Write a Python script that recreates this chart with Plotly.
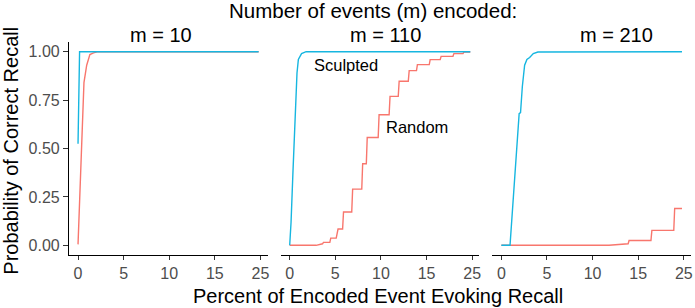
import plotly.graph_objects as go

# ---------------- data ----------------
panel_titles = ["m = 10", "m = 110", "m = 210"]
series_names = ["Random", "Sculpted"]

x_ticks = [0, 5, 10, 15, 20]
x_tick_labels = ["0", "5", "10", "15", "25"]
y_ticks = [0, 0.25, 0.5, 0.75, 1.0]

# m = 10
m10_random_x = [0, 0.45, 0.65, 0.95, 1.3, 1.7, 2.2, 19.8]
m10_random_y = [0.005, 0.64, 0.84, 0.93, 0.985, 0.994, 1.0, 1.0]
m10_sculpted_x = [0, 0.17, 19.8]
m10_sculpted_y = [0.525, 1.0, 1.0]

# m = 110
m110_random_x = [0, 2.9, 3.6, 3.7, 4.4, 4.5, 5.1, 5.3, 5.8, 5.9, 6.8, 6.9, 7.9, 8.0,
                 8.4, 8.5, 9.7, 9.8, 10.9, 11.0, 11.9, 12.0, 13.0, 13.1, 13.9, 14.0,
                 15.3, 15.4, 16.5, 16.6, 17.9, 18.0, 19.0, 19.1, 19.8]
m110_random_y = [0.0, 0.0, 0.008, 0.015, 0.015, 0.037, 0.037, 0.084, 0.084, 0.172, 0.172,
                 0.29, 0.29, 0.421, 0.421, 0.557, 0.557, 0.674, 0.674, 0.769, 0.769,
                 0.847, 0.847, 0.902, 0.902, 0.933, 0.933, 0.959, 0.959, 0.976, 0.976,
                 0.99, 0.99, 0.998, 0.998]
m110_sculpted_x = [0, 0.15, 0.35, 0.55, 0.7, 0.8, 0.95, 1.3, 1.8, 19.8]
m110_sculpted_y = [0.0, 0.12, 0.37, 0.63, 0.80, 0.89, 0.96, 0.99, 1.0, 1.0]

# m = 210
m210_random_x = [0, 11.8, 13.9, 14.0, 16.4, 16.5, 18.9, 19.0, 19.8]
m210_random_y = [0.0, 0.0, 0.008, 0.025, 0.025, 0.077, 0.077, 0.19, 0.19]
m210_sculpted_x = [0, 0.95, 1.95, 2.1, 2.3, 2.55, 2.8, 3.1, 3.5, 4.0, 19.8]
m210_sculpted_y = [0.0, 0.0, 0.68, 0.685, 0.82, 0.93, 0.96, 0.97, 0.99, 0.998, 1.0]

random_x = [m10_random_x, m110_random_x, m210_random_x]
random_y = [m10_random_y, m110_random_y, m210_random_y]
sculpted_x = [m10_sculpted_x, m110_sculpted_x, m210_sculpted_x]
sculpted_y = [m10_sculpted_y, m110_sculpted_y, m210_sculpted_y]

# label positions (data coords in panel 2)
label_sculpted = (6.2, 0.933)
label_random = (14.0, 0.611)

# ---------------- styling ----------------
RED = "#F8766D"
BLUE = "#16B6E0"
FONT = "Liberation Sans, Arial, Helvetica, sans-serif"
W, H = 695, 308
ML, MR, MT, MB = 69, 2, 42, 53
PW = W - ML - MR
PH = H - MT - MB

def px_to_paper_x(px):
    return (px - ML) / PW

def py_to_paper_y(py):
    return (H - MB - py) / PH

panel_w = 0.3194
gap = (1 - 3 * panel_w) / 2
domains = [[i * (panel_w + gap), i * (panel_w + gap) + panel_w] for i in range(3)]
domains[2][1] = 1.0

fig = go.Figure()
for i in range(3):
    xa = "x" if i == 0 else f"x{i+1}"
    ya = "y" if i == 0 else f"y{i+1}"
    fig.add_trace(go.Scatter(x=random_x[i], y=random_y[i], mode="lines",
                             line=dict(color=RED, width=1.4), name=series_names[0],
                             xaxis=xa, yaxis=ya, showlegend=False))
    fig.add_trace(go.Scatter(x=sculpted_x[i], y=sculpted_y[i], mode="lines",
                             line=dict(color=BLUE, width=1.4), name=series_names[1],
                             xaxis=xa, yaxis=ya, showlegend=False))

xrange = [-0.99, 20.79]
yrange = [-0.05, 1.05]
for i in range(3):
    key = "xaxis" if i == 0 else f"xaxis{i+1}"
    fig.layout[key] = dict(
        domain=domains[i], range=xrange, anchor="y" if i == 0 else f"y{i+1}",
        tickmode="array", tickvals=x_ticks, ticktext=x_tick_labels,
        showline=True, linecolor="black", linewidth=1.1,
        ticks="outside", ticklen=4, tickcolor="#333333", tickwidth=1,
        tickfont=dict(family=FONT, size=16, color="#4D4D4D"),
        showgrid=False, zeroline=False, fixedrange=True,
    )
    ykey = "yaxis" if i == 0 else f"yaxis{i+1}"
    ydict = dict(domain=[0, 1], range=yrange, anchor="x" if i == 0 else f"x{i+1}",
                 showgrid=False, zeroline=False, fixedrange=True)
    if i == 0:
        ydict.update(tickmode="array", tickvals=y_ticks, tickformat=".2f",
                     showline=True, linecolor="black", linewidth=1.1,
                     ticks="outside", ticklen=5, tickcolor="#333333", tickwidth=1,
                     tickfont=dict(family=FONT, size=16, color="#4D4D4D"))
    else:
        ydict.update(showticklabels=False, showline=False, ticks="")
    fig.layout[ykey] = ydict

annotations = []
title_px = [161, 387, 618]
for t, px in zip(panel_titles, title_px):
    annotations.append(dict(text=t, xref="paper", yref="paper",
                            x=px_to_paper_x(px), y=py_to_paper_y(35),
                            xanchor="center", yanchor="middle", showarrow=False,
                            font=dict(family=FONT, size=20, color="black")))
annotations.append(dict(text="Number of events (m) encoded:", xref="paper", yref="paper",
                        x=px_to_paper_x(374), y=py_to_paper_y(11),
                        xanchor="center", yanchor="middle", showarrow=False,
                        font=dict(family=FONT, size=20.5, color="black")))
annotations.append(dict(text="Percent of Encoded Event Evoking Recall", xref="paper", yref="paper",
                        x=px_to_paper_x(378.5), y=py_to_paper_y(296),
                        xanchor="center", yanchor="middle", showarrow=False,
                        font=dict(family=FONT, size=20, color="black")))
annotations.append(dict(text="Probability of Correct Recall", xref="paper", yref="paper",
                        x=px_to_paper_x(10), y=py_to_paper_y(150.5), textangle=-90,
                        xanchor="center", yanchor="middle", showarrow=False,
                        font=dict(family=FONT, size=20, color="black")))
annotations.append(dict(text=series_names[1], xref="x2", yref="y2",
                        x=label_sculpted[0], y=label_sculpted[1],
                        xanchor="center", yanchor="middle", showarrow=False,
                        font=dict(family=FONT, size=16.5, color="black")))
annotations.append(dict(text=series_names[0], xref="x2", yref="y2",
                        x=label_random[0], y=label_random[1],
                        xanchor="center", yanchor="middle", showarrow=False,
                        font=dict(family=FONT, size=16.5, color="black")))

fig.update_layout(
    width=W, height=H,
    margin=dict(l=ML, r=MR, t=MT, b=MB, pad=0),
    paper_bgcolor="white", plot_bgcolor="white",
    annotations=annotations, showlegend=False,
    font=dict(family=FONT),
)

fig.write_html("out.html", config={"displayModeBar": False},
               post_script="document.body.style.margin='0px';document.body.style.overflow='hidden';")
